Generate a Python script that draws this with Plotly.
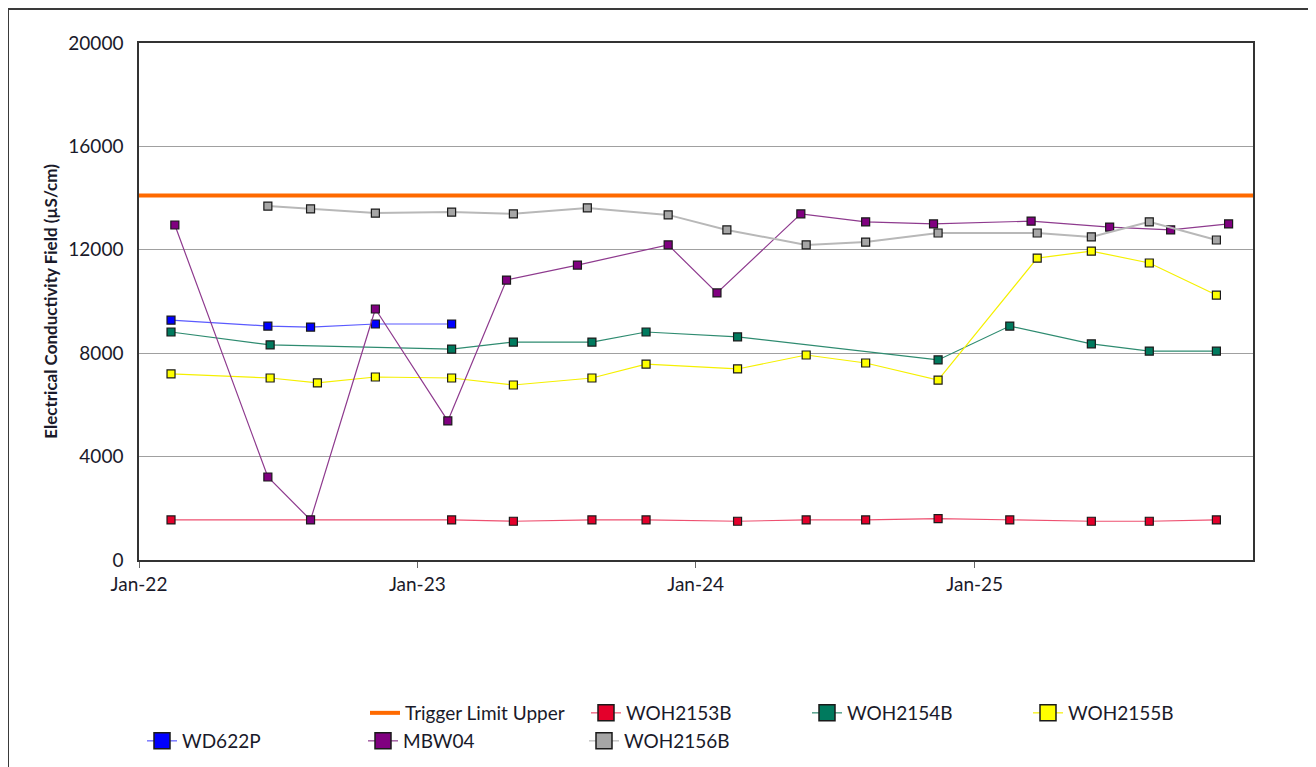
import plotly.graph_objects as go

# ---- data ----
trigger_dates = ["2022-01-01", "2026-01-01"]
trigger_vals = [14100, 14100]

woh2153b_dates = ["2022-02-12", "2023-02-15", "2023-05-07", "2023-08-18", "2023-10-28", "2024-02-25",
                  "2024-05-25", "2024-08-11", "2024-11-14", "2025-02-16", "2025-06-03", "2025-08-18", "2025-11-14"]
woh2153b_vals = [1550, 1550, 1500, 1550, 1550, 1500, 1550, 1550, 1600, 1550, 1500, 1500, 1550]

woh2154b_dates = ["2022-02-12", "2022-06-22", "2023-02-15", "2023-05-07", "2023-08-18", "2023-10-28",
                  "2024-02-25", "2024-11-14", "2025-02-16", "2025-06-03", "2025-08-18", "2025-11-14"]
woh2154b_vals = [8820, 8320, 8160, 8430, 8430, 8820, 8630, 7740, 9050, 8360, 8080, 8080]

woh2155b_dates = ["2022-02-12", "2022-06-22", "2022-08-23", "2022-11-07", "2023-02-15", "2023-05-07",
                  "2023-08-18", "2023-10-28", "2024-02-25", "2024-05-25", "2024-08-11", "2024-11-14",
                  "2025-03-24", "2025-06-03", "2025-08-18", "2025-11-14"]
woh2155b_vals = [7200, 7040, 6850, 7080, 7040, 6770, 7040, 7580, 7390, 7930, 7620, 6960,
                 11680, 11950, 11490, 10250]

wd622p_dates = ["2022-02-12", "2022-06-19", "2022-08-14", "2022-11-07", "2023-02-15"]
wd622p_vals = [9280, 9050, 9010, 9130, 9130]

mbw04_dates = ["2022-02-17", "2022-06-19", "2022-08-14", "2022-11-07", "2023-02-10", "2023-04-28",
               "2023-07-30", "2023-11-26", "2024-01-29", "2024-05-18", "2024-08-11", "2024-11-08",
               "2025-03-16", "2025-06-27", "2025-09-15", "2025-11-30"]
mbw04_vals = [12960, 3210, 1550, 9710, 5380, 10830, 11410, 12190, 10330, 13390, 13080, 13000,
              13110, 12880, 12770, 13000]

woh2156b_dates = ["2022-06-19", "2022-08-14", "2022-11-07", "2023-02-15", "2023-05-07", "2023-08-12",
                  "2023-11-26", "2024-02-11", "2024-05-25", "2024-08-11", "2024-11-14", "2025-03-24",
                  "2025-06-03", "2025-08-18", "2025-11-14"]
woh2156b_vals = [13690, 13580, 13420, 13460, 13390, 13620, 13350, 12770, 12190, 12300, 12650, 12650,
                 12500, 13080, 12380]

x_ticks = ["2022-01-01", "2023-01-01", "2024-01-01", "2025-01-01"]
x_tick_labels = ["Jan-22", "Jan-23", "Jan-24", "Jan-25"]
y_ticks = [0, 4000, 8000, 12000, 16000, 20000]

FONT = "Lato"
TXT = "#1a1a2a"

fig = go.Figure()

def series(name, x, y, color, line_color, legend, lw=1.2):
    # chart trace (legend entry drawn by a separate, data-less legend trace with bigger symbol)
    fig.add_trace(go.Scatter(
        x=x, y=y, name=name, mode="lines+markers", showlegend=False,
        line=dict(color=line_color, width=lw),
        marker=dict(symbol="square", size=8, color=color, line=dict(color="#1a1a1a", width=1.2)),
        legendgroup=name,
    ))
    fig.add_trace(go.Scatter(
        x=[None], y=[None], name=name, mode="lines+markers", showlegend=True,
        line=dict(color=line_color, width=1.2),
        marker=dict(symbol="square", size=16, color=color, line=dict(color="#1a1a1a", width=1.5)),
        legend=legend, legendgroup=name,
    ))

fig.add_trace(go.Scatter(x=trigger_dates, y=trigger_vals, name="Trigger Limit Upper", mode="lines",
                         line=dict(color="#FF6A00", width=4), legend="legend"))
series("WOH2153B", woh2153b_dates, woh2153b_vals, "#E4002B", "#EE5070", "legend")
series("WOH2154B", woh2154b_dates, woh2154b_vals, "#007A5E", "#2E8B70", "legend")
series("WOH2155B", woh2155b_dates, woh2155b_vals, "#FFFF00", "#F5F000", "legend")
series("WD622P", wd622p_dates, wd622p_vals, "#0000FF", "#5A5AFF", "legend2")
series("MBW04", mbw04_dates, mbw04_vals, "#800080", "#8E3A8E", "legend2")
series("WOH2156B", woh2156b_dates, woh2156b_vals, "#A6A6A6", "#B8B8B8", "legend2", lw=2)

W, H = 1316, 767
OFF = 7  # page offset of the figure
L, R, T, B = 138, 1252, 42, 559
pw, ph = R - L, B - T

def px_x(p):
    return (p - L) / pw

def px_y(p):
    return (B - p) / ph

fig.update_layout(
    width=W, height=H,
    margin=dict(l=L - OFF, r=W + OFF - R, t=T - OFF, b=H + OFF - B),
    paper_bgcolor="white", plot_bgcolor="white",
    font=dict(family=FONT, size=19, color=TXT),
    legend=dict(orientation="h", x=px_x(364), y=px_y(712), xanchor="left", yanchor="middle",
                entrywidth=176, font=dict(size=19, family=FONT, color=TXT), bgcolor="rgba(0,0,0,0)",
                tracegroupgap=0),
    legend2=dict(orientation="h", x=px_x(141), y=px_y(740), xanchor="left", yanchor="middle",
                 entrywidth=176, font=dict(size=19, family=FONT, color=TXT), bgcolor="rgba(0,0,0,0)",
                 tracegroupgap=0),
    xaxis=dict(
        type="date", range=["2022-01-01", "2026-01-01"],
        tickvals=x_ticks, ticktext=x_tick_labels,
        showgrid=False, zeroline=False,
        showline=True, linecolor="#333333", linewidth=1.5, mirror=True,
        ticks="outside", ticklen=6, tickcolor="#666666",
        tickfont=dict(size=19, family=FONT, color=TXT),
    ),
    yaxis=dict(
        range=[0, 20000], tickvals=y_ticks, tickformat="d",
        showgrid=True, gridcolor="#A0A0A0", gridwidth=1.2, zeroline=False,
        showline=True, linecolor="#333333", linewidth=1.5, mirror=True,
        ticks="", ticklabelstandoff=10, tickfont=dict(size=19, family=FONT, color=TXT),
        title=dict(text="<b>Electrical Conductivity Field (µS/cm)</b>",
                   font=dict(size=17, family=FONT, color=TXT), standoff=6),
    ),
    shapes=[dict(type="rect", xref="paper", yref="paper",
                 x0=px_x(7), x1=px_x(1313), y0=px_y(790), y1=px_y(8),
                 line=dict(color="#3a3a3a", width=2), fillcolor="rgba(0,0,0,0)", layer="below")],
)

fig.write_html("out.html")
